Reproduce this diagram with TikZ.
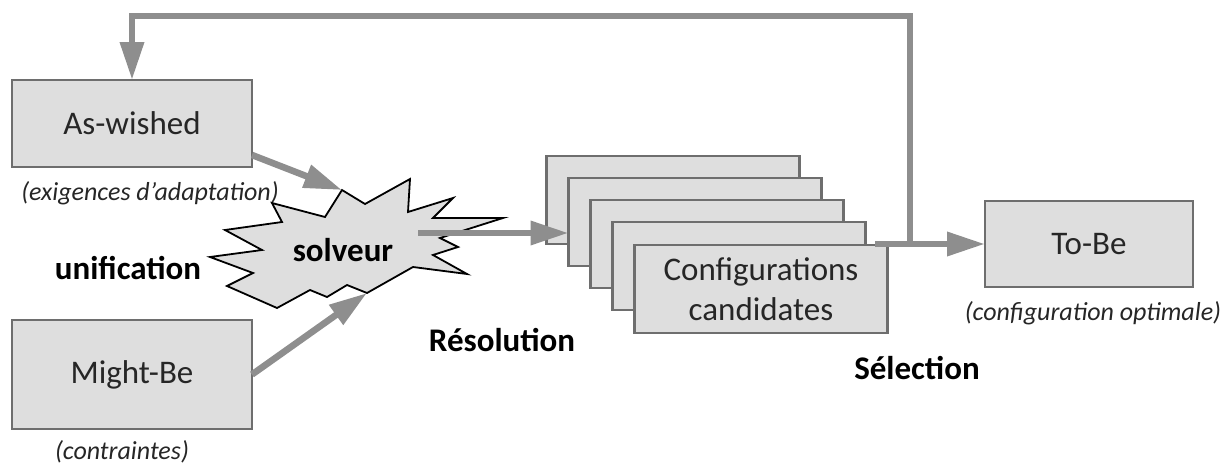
\documentclass[tikz,border=0pt]{standalone}
\usepackage{fontspec}
\setmainfont{Carlito}
\usetikzlibrary{arrows.meta,positioning}
\definecolor{boxfill}{HTML}{DEDEDE}
\definecolor{boxline}{HTML}{6E6E6E}
\definecolor{flowgray}{HTML}{8E8E8E}
\definecolor{inkgray}{HTML}{262626}
\tikzset{
  x = 0.5pt, y = -0.5pt,
  stage/.style = {draw = boxline, fill = boxfill, line width = 1.4pt, inner sep = 0pt,
    outer sep = 0pt, text = inkgray, align = center, font = \fontsize{16.5}{20}\selectfont},
  burst/.style = {draw = black, fill = boxfill, line width = 0.9pt, line join = miter},
  flow/.style = {draw = flowgray, line width = 3.3pt, -{Triangle[length = 19pt, width = 11.5pt]}},
  note/.style = {text = inkgray, inner sep = 0pt, font = \fontsize{13}{15}\selectfont\itshape},
  phase/.style = {text = black, font = \fontsize{16.5}{19}\selectfont\bfseries},
}

\begin{document}
\begin{tikzpicture}
  \useasboundingbox (0,0) rectangle (1228,466);
  % inputs
  \node [stage, minimum width = 120pt, minimum height = 43.5pt] (aswished) at (132,123.5) {As-wished};
  \node [stage, minimum width = 120pt, minimum height = 54.5pt] (mightbe) at (132,374.5) {Might-Be};
  \node [note] (aswishednote) at (150,193) {(exigences d’adaptation)};
  \node [note] (mightnote) at (122,452) {(contraintes)};
  \node [phase] (unif) at (128,268) {unification};
  % solveur burst
  \foreach \n/\px/\py in {1/342/190, 2/365/204, 3/410/179, 4/408/212, 5/453/198,
      6/433/218, 7/503/218, 8/440/238, 9/458/247, 10/433/255, 11/467/274,
      12/413/267, 13/367/293, 14/347/285, 15/327/297, 16/310/290, 17/277/308,
      18/227/286, 19/253/273, 20/210/257, 21/262/250, 22/225/230, 23/282/222,
      24/272/203, 25/325/217}
    \coordinate (s\n) at (\px,\py);
  \draw [burst] (s1) \foreach \n in {2,...,25} { -- (s\n) } -- cycle;
  \node [phase] (solveur) at (343,250) {solveur};
  % candidate stack
  \foreach \i/\cx/\cy in {1/673/200, 2/695/222, 3/717/244, 4/739/266}
    \node [stage, minimum width = 126.5pt, minimum height = 44pt] (cfg\i) at (\cx,\cy) {};
  \node [stage, minimum width = 126.5pt, minimum height = 44pt] (cfg5) at (761,289) {Configurations\\candidates};
  \node [phase] (resol) at (502,340) {Résolution};
  % output
  \node [stage, minimum width = 104pt, minimum height = 43pt] (tobe) at (1089,244) {To-Be};
  \node [note] (tobenote) at (1093,313) {(configuration optimale)};
  \node [phase] (select) at (917,368) {Sélection};
  % edges
  \coordinate (rin) at (418,233);
  \coordinate (out) at (875,244);
  \coordinate (jct) at (910,244);
  \coordinate (fbtop) at (132,16);
  \draw [flow] ([yshift = 6pt]aswished.south east) -- (s1);
  \draw [flow] (mightbe.east) -- (s13);
  \draw [flow] (rin) -- (rin -| cfg2.west);
  \draw [flow] (out) -- (tobe.west);
  \draw [flow] (jct) -- (jct |- fbtop) -- (fbtop) -- (aswished.north);
\end{tikzpicture}
\end{document}
